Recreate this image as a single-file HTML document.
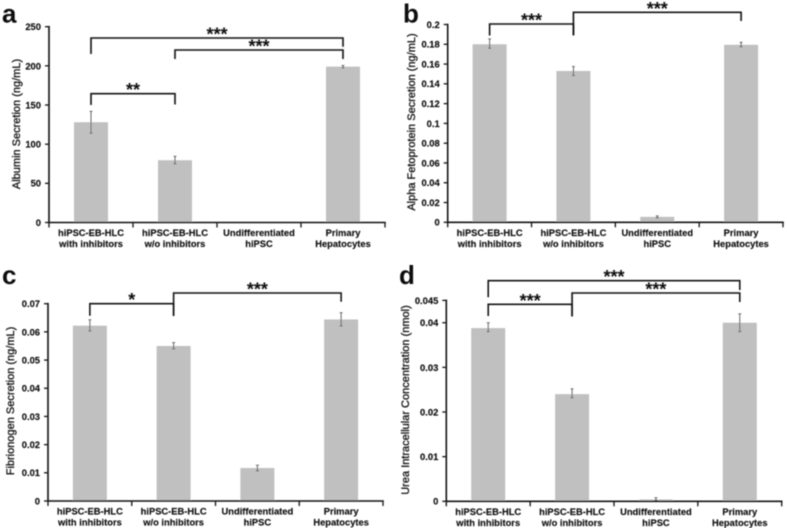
<!DOCTYPE html>
<html lang="en">
<head>
<meta charset="utf-8">
<title>Hepatic function of hiPSC-derived cells</title>
<style>
html,body{margin:0;padding:0;background:#fff;width:787px;height:528px;overflow:hidden}
svg{display:block;font-family:"Liberation Sans",Arial,sans-serif}
</style>
</head>
<body>
<svg id="fig" width="787" height="528" viewBox="0 0 787 528">
<defs><filter id="soft" x="-2%" y="-2%" width="104%" height="104%"><feGaussianBlur stdDeviation="0.4"/></filter></defs>
<g id="root" filter="url(#soft)"></g>
</svg>
<script>
const categories = [["hiPSC-EB-HLC","with inhibitors"],["hiPSC-EB-HLC","w/o inhibitors"],["Undifferentiated","hiPSC"],["Primary","Hepatocytes"]];

const albuminValues = [128, 79.5, 0, 199];
const albuminLow = [114, 75, 0, 197.5];
const albuminHigh = [142, 84.5, 0, 200.5];
const albuminTicks = ["0","50","100","150","200","250"];

const afpValues = [0.18, 0.153, 0.0055, 0.1795];
const afpLow = [0.176, 0.1485, 0.0045, 0.1775];
const afpHigh = [0.1855, 0.1575, 0.0065, 0.182];
const afpTicks = ["0","0.02","0.04","0.06","0.08","0.1","0.12","0.14","0.16","0.18","0.2"];

const fibrinogenValues = [0.0622, 0.055, 0.0117, 0.0644];
const fibrinogenLow = [0.0603, 0.054, 0.0107, 0.0621];
const fibrinogenHigh = [0.0643, 0.0562, 0.0127, 0.0668];
const fibrinogenTicks = ["0","0.01","0.02","0.03","0.04","0.05","0.06","0.07"];

const ureaValues = [0.0388, 0.024, 0.0004, 0.04];
const ureaLow = [0.038, 0.0232, 0.0002, 0.038];
const ureaHigh = [0.04, 0.0252, 0.0008, 0.042];
const ureaTicks = ["0","0.01","0.02","0.03","0.04","0.045"];

const NS = "http://www.w3.org/2000/svg";
const root = document.getElementById("root");
const AXIS = "#141414";

function line(parent, x1, y1, x2, y2, stroke, width, name) {
  const e = document.createElementNS(NS, "line");
  e.setAttribute("x1", x1);
  e.setAttribute("y1", y1);
  e.setAttribute("x2", x2);
  e.setAttribute("y2", y2);
  e.setAttribute("stroke", stroke);
  e.setAttribute("stroke-width", width);
  
  
  parent.appendChild(e);
  return e;
}

function text(parent, str, x, y, size, weight, anchor, name) {
  const e = document.createElementNS(NS, "text");
  e.textContent = str;
  e.setAttribute("x", x);
  e.setAttribute("y", y);
  e.setAttribute("font-size", size);
  e.setAttribute("font-weight", weight);
  e.setAttribute("text-anchor", anchor);
  e.setAttribute("fill", "#111");
  
  
  parent.appendChild(e);
  return e;
}

function drawPanel(p) {
  const g = document.createElementNS(NS, "g");
  
  
  root.appendChild(g);

  const yScale = v => p.y0 + (p.yTop - p.y0) * v / p.yMax;
  const band = (p.xEnd - p.xAxis) / categories.length;
  const xScale = i => p.xAxis + band * (i + 0.5);

  text(g, p.letter, p.letterX, p.letterY, 26, "bold", "start", "panel-letter-" + p.letter);

  p.values.forEach((v, i) => {
    const cx = xScale(i);
    const top = yScale(v);
    const r = document.createElementNS(NS, "rect");
    r.setAttribute("x", cx - 17);
    r.setAttribute("y", top);
    r.setAttribute("width", 34);
    r.setAttribute("height", Math.max(0, p.y0 - top));
    r.setAttribute("fill", "#c0c0c0");
    
    
    g.appendChild(r);
    if (p.high[i] > 0) {
      const lo = yScale(p.low[i]);
      const hi = yScale(p.high[i]);
      line(g, cx, lo, cx, hi, "#666", 1, "error-bar-" + p.letter + "-" + (i + 1));
      line(g, cx - 1.5, lo, cx + 1.5, lo, "#555", 0.8, "error-cap-low-" + p.letter + "-" + (i + 1));
      line(g, cx - 1.5, hi, cx + 1.5, hi, "#555", 0.8, "error-cap-high-" + p.letter + "-" + (i + 1));
    }
  });

  line(g, p.xAxis, p.yTop - 0.8, p.xAxis, p.y0 + 0.8, AXIS, 1.6, "y-axis-" + p.letter);
  line(g, p.xAxis - 0.8, p.y0, p.xEnd + 0.8, p.y0, AXIS, 1.6, "x-axis-" + p.letter);

  p.ticks.forEach(t => {
    const y = yScale(parseFloat(t));
    line(g, p.xAxis - 4, y, p.xAxis, y, AXIS, 1.3, "y-tick-" + p.letter + "-" + t);
    const label = text(g, t, p.xAxis - 8, y + 3.4, 9.4, "bold", "end", "y-tick-label-" + p.letter + "-" + t);
    label.setAttribute("stroke", "#111");
    label.setAttribute("stroke-width", "0.15");
  });

  for (let i = 0; i <= categories.length; i++) {
    const x = p.xAxis + band * i;
    line(g, x, p.y0, x, p.y0 + 5, AXIS, 1.3, "x-tick-" + p.letter + "-" + i);
  }

  categories.forEach((c, i) => {
    const x = xScale(i);
    const first = text(g, c[0], x, p.y0 + 13.5, 9.35, "bold", "middle", "x-label-" + p.letter + "-" + (i + 1) + "-line-1");
    first.setAttribute("stroke", "#111");
    first.setAttribute("stroke-width", "0.15");
    const second = text(g, c[1], x, p.y0 + 24.7, 9.35, "bold", "middle", "x-label-" + p.letter + "-" + (i + 1) + "-line-2");
    second.setAttribute("stroke", "#111");
    second.setAttribute("stroke-width", "0.15");
  });

  const title = text(g, p.title, 0, 0, p.titleSize, "normal", "middle", "y-axis-title-" + p.letter);
  title.setAttribute("transform", "translate(" + p.titleX + "," + p.titleY + ") rotate(-90)");
  title.setAttribute("stroke", "#111");
  title.setAttribute("stroke-width", "0.3");

  p.brackets.forEach((b, k) => {
    const x1 = xScale(b.from);
    const x2 = xScale(b.to);
    const id = p.letter + "-" + (k + 1);
    const path = document.createElementNS(NS, "path");
    path.setAttribute("d", "M" + x1 + " " + b.leftEnd + "V" + b.y + "H" + x2 + "V" + b.rightEnd);
    path.setAttribute("fill", "none");
    path.setAttribute("stroke", "#141414");
    path.setAttribute("stroke-width", 1.6);
    
    
    g.appendChild(path);
    text(g, b.stars, (x1 + x2) / 2, b.y + 2.5, 18, "bold", "middle", "significance-stars-" + id);
  });
}

drawPanel({letter:"a", letterX:2, letterY:22.6, title:"Albumin Secretion (ng/mL)", titleX:20, titleY:124, titleSize:11,
  values:albuminValues, low:albuminLow, high:albuminHigh, ticks:albuminTicks, yMax:250,
  xAxis:49, xEnd:385, y0:222.5, yTop:26.7,
  brackets:[
    {from:0, to:3, y:38, leftEnd:54, rightEnd:46.7, stars:"***"},
    {from:1, to:3, y:50, leftEnd:59, rightEnd:59, stars:"***"},
    {from:0, to:1, y:93.7, leftEnd:105, rightEnd:104.5, stars:"**"}
  ]});

drawPanel({letter:"b", letterX:403, letterY:22.6, title:"Alpha Fetoprotein Secretion (ng/mL)", titleX:415, titleY:122, titleSize:11,
  values:afpValues, low:afpLow, high:afpHigh, ticks:afpTicks, yMax:0.2,
  xAxis:447.7, xEnd:783, y0:222.3, yTop:24.5,
  brackets:[
    {from:0, to:1, y:24, leftEnd:35.5, rightEnd:35.5, stars:"***"},
    {from:1, to:3, y:12.3, leftEnd:35, rightEnd:21, stars:"***"}
  ]});

drawPanel({letter:"c", letterX:2, letterY:284, title:"Fibrionogen Secretion (ng/mL)", titleX:14, titleY:401, titleSize:11,
  values:fibrinogenValues, low:fibrinogenLow, high:fibrinogenHigh, ticks:fibrinogenTicks, yMax:0.07,
  xAxis:48, xEnd:383, y0:501, yTop:303.7,
  brackets:[
    {from:0, to:1, y:303.7, leftEnd:315.7, rightEnd:316, stars:"*"},
    {from:1, to:3, y:293, leftEnd:316, rightEnd:301.7, stars:"***"}
  ]});

drawPanel({letter:"d", letterX:399, letterY:284, title:"Urea Intracellular Concentration (nmol)", titleX:409, titleY:400, titleSize:11,
  values:ureaValues, low:ureaLow, high:ureaHigh, ticks:ureaTicks, yMax:0.045,
  xAxis:446.3, xEnd:781.7, y0:501.3, yTop:300.4,
  brackets:[
    {from:0, to:3, y:280.7, leftEnd:297.3, rightEnd:290, stars:"***"},
    {from:1, to:3, y:293, leftEnd:316, rightEnd:302, stars:"***"},
    {from:0, to:1, y:304.3, leftEnd:316, rightEnd:316.5, stars:"***"}
  ]});
</script>
</body>
</html>
